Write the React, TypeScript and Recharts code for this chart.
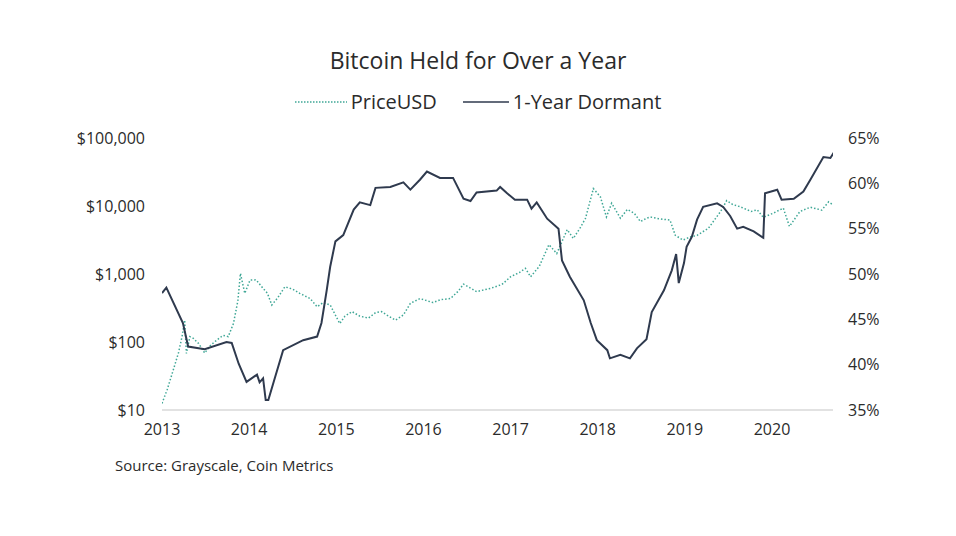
import { Line, LineChart, XAxis, YAxis } from "recharts";

const xTicks = [2013, 2014, 2015, 2016, 2017, 2018, 2019, 2020];
const priceTicks = [10, 100, 1000, 10000, 100000];
const pctTicks = [35, 40, 45, 50, 55, 60, 65];

const priceYears = [
  2013.0, 2013.06, 2013.13, 2013.19, 2013.23, 2013.26, 2013.28, 2013.32, 2013.36, 2013.42,
  2013.49, 2013.56, 2013.63, 2013.7, 2013.76, 2013.82, 2013.87, 2013.9, 2013.95, 2014.01,
  2014.08, 2014.16, 2014.21, 2014.26, 2014.33, 2014.41, 2014.5, 2014.58, 2014.7, 2014.78,
  2014.85, 2014.93, 2015.04, 2015.1, 2015.18, 2015.27, 2015.37, 2015.45, 2015.52, 2015.6,
  2015.68, 2015.77, 2015.85, 2015.96, 2016.11, 2016.2, 2016.31, 2016.4, 2016.46, 2016.61,
  2016.77, 2016.9, 2017.0, 2017.1, 2017.17, 2017.23, 2017.33, 2017.44, 2017.53, 2017.65,
  2017.72, 2017.8, 2017.86, 2017.95, 2018.03, 2018.1, 2018.16, 2018.26, 2018.34, 2018.42,
  2018.49, 2018.56, 2018.6, 2018.7, 2018.83, 2018.89, 2018.98, 2019.06, 2019.14, 2019.27,
  2019.41, 2019.48, 2019.55, 2019.63, 2019.76, 2019.83, 2019.9, 2020.02, 2020.13, 2020.2,
  2020.32, 2020.44, 2020.57, 2020.65, 2020.71,
];
const priceUSD = [
  12.5, 20, 39, 70, 120, 210, 68, 120, 113, 95,
  69, 90, 107, 125, 120, 187, 400, 1020, 520, 815,
  820, 615, 520, 350, 450, 650, 600, 520, 435, 330,
  380, 350, 187, 240, 280, 240, 225, 270, 280, 240,
  210, 250, 370, 435, 380, 420, 435, 560, 710, 550,
  615, 700, 910, 1050, 1210, 910, 1300, 2700, 2000, 4500,
  3330, 4800, 6600, 18000, 13700, 6900, 11000, 6600, 8900, 7800,
  5900, 6600, 6900, 6500, 6200, 3700, 3160, 3500, 3700, 4700,
  8300, 12000, 10500, 9800, 8300, 8800, 6800, 7900, 9300, 5000,
  8300, 9600, 8700, 11500, 10200,
];

const dormantYears = [
  2013.0, 2013.05, 2013.24, 2013.3, 2013.49, 2013.74, 2013.8, 2013.88, 2013.97, 2014.09,
  2014.12, 2014.16, 2014.19, 2014.22, 2014.3, 2014.39, 2014.62, 2014.78, 2014.83, 2014.89,
  2014.93, 2014.99, 2015.08, 2015.2, 2015.27, 2015.39, 2015.45, 2015.62, 2015.77, 2015.85,
  2015.96, 2016.04, 2016.19, 2016.34, 2016.46, 2016.54, 2016.61, 2016.84, 2016.88, 2016.96,
  2017.05, 2017.19, 2017.24, 2017.3, 2017.42, 2017.55, 2017.59, 2017.68, 2017.84, 2017.92,
  2017.99, 2018.11, 2018.14, 2018.26, 2018.37, 2018.45, 2018.56, 2018.62, 2018.76, 2018.85,
  2018.9, 2018.93, 2018.99, 2019.02, 2019.08, 2019.14, 2019.21, 2019.37, 2019.44, 2019.52,
  2019.6, 2019.67, 2019.79, 2019.9, 2019.92, 2020.06, 2020.11, 2020.25, 2020.36, 2020.44,
  2020.59, 2020.67, 2020.71,
];
const dormantPct = [
  47.9, 48.5, 44.6, 42.0, 41.7, 42.5, 42.4, 40.1, 38.1, 38.9,
  38.05, 38.5, 36.1, 36.1, 38.7, 41.6, 42.7, 43.1, 44.6, 48.2,
  50.8, 53.6, 54.3, 57.1, 57.9, 57.6, 59.5, 59.6, 60.1, 59.3,
  60.4, 61.3, 60.6, 60.6, 58.3, 58.05, 59.0, 59.2, 59.6, 58.9,
  58.2, 58.2, 57.2, 57.9, 56.1, 55.0, 51.5, 49.7, 47.1, 44.6,
  42.7, 41.6, 40.7, 41.1, 40.7, 41.8, 42.8, 45.8, 48.2, 50.4,
  52.2, 49.0, 51.2, 53.0, 54.1, 56.0, 57.4, 57.8, 57.4, 56.4,
  55.0, 55.2, 54.7, 54.0, 58.9, 59.3, 58.2, 58.3, 59.1, 60.4,
  62.9, 62.8, 63.4,
];

const priceData = priceYears.map((t, i) => ({ t, price: priceUSD[i] }));
const dormantData = dormantYears.map((t, i) => ({ t, dormant: dormantPct[i] }));

const FONT = "'Open Sans', Lato, sans-serif";
const TEAL = "#3fa796";
const NAVY = "#2f3a4e";
const TEXT = "#2b2b2b";

const tickStyle = { fill: TEXT, fontSize: 16, fontFamily: FONT };

export default function App() {
  return (
    <div
      style={{
        position: "absolute",
        left: 0,
        top: 0,
        width: 956,
        height: 536,
        background: "#fff",
        fontFamily: FONT,
        color: TEXT,
      }}
    >
      <div
        style={{
          position: "absolute",
          top: 44,
          left: 0,
          width: 956,
          textAlign: "center",
          fontSize: 23,
        }}
      >
        Bitcoin Held for Over a Year
      </div>
      <div
        style={{
          position: "absolute",
          top: 88,
          left: 0,
          width: 956,
          display: "flex",
          justifyContent: "center",
          alignItems: "center",
          fontSize: 20,
        }}
      >
        <svg width={52} height={4} style={{ marginRight: 4 }}>
          <line x1={0} y1={2} x2={52} y2={2} stroke={TEAL} strokeWidth={1.5} strokeDasharray="1.5 1.5" />
        </svg>
        <span>PriceUSD</span>
        <svg width={46} height={4} style={{ marginLeft: 26, marginRight: 4 }}>
          <line x1={0} y1={2} x2={46} y2={2} stroke={NAVY} strokeWidth={1.5} />
        </svg>
        <span>1-Year Dormant</span>
      </div>
      <LineChart
        width={956}
        height={536}
        margin={{ top: 138, right: 63, bottom: 96, left: 62 }}
      >
        <XAxis
          dataKey="t"
          type="number"
          domain={[2013, 2020.7]}
          ticks={xTicks}
          allowDataOverflow
          tickLine={false}
          axisLine={{ stroke: "#d9d9d9", strokeWidth: 1.5 }}
          tick={tickStyle}
          tickMargin={8}
          height={30}
        />
        <YAxis
          yAxisId="left"
          scale="log"
          domain={[10, 100000]}
          ticks={priceTicks}
          allowDataOverflow
          axisLine={false}
          tickLine={false}
          tick={tickStyle}
          tickMargin={11}
          width={100}
          tickFormatter={(v: number) => `$${v.toLocaleString("en-US")}`}
        />
        <YAxis
          yAxisId="right"
          orientation="right"
          domain={[35, 65]}
          ticks={pctTicks}
          allowDataOverflow
          axisLine={false}
          tickLine={false}
          tick={tickStyle}
          tickMargin={9}
          width={60}
          tickFormatter={(v: number) => `${v}%`}
        />
        <Line
          data={priceData}
          yAxisId="left"
          dataKey="price"
          type="linear"
          stroke={TEAL}
          strokeWidth={1.5}
          strokeDasharray="1.5 2"
          dot={false}
          isAnimationActive={false}
        />
        <Line
          data={dormantData}
          yAxisId="right"
          dataKey="dormant"
          type="linear"
          stroke={NAVY}
          strokeWidth={2}
          dot={false}
          isAnimationActive={false}
        />
      </LineChart>
      <div style={{ position: "absolute", top: 455, left: 115, fontSize: 15 }}>
        Source: Grayscale, Coin Metrics
      </div>
    </div>
  );
}
